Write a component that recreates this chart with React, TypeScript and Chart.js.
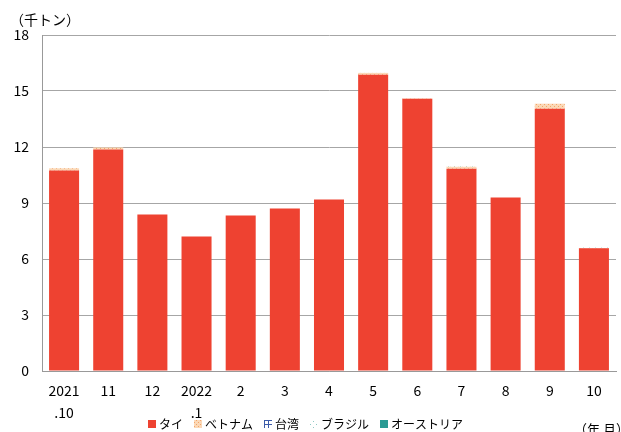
import React, { useEffect, useRef } from "react";
import { Chart, registerables } from "chart.js";

Chart.register(...registerables);

const categories: (string | string[])[] = [["2021", ".10"], "11", "12", ["2022", ".1"], "2", "3", "4", "5", "6", "7", "8", "9", "10"];
const thai = [10.74, 11.86, 8.39, 7.21, 8.33, 8.71, 9.19, 15.87, 14.58, 10.84, 9.29, 14.05, 6.57];
const vietnam = [0.12, 0.12, 0, 0, 0, 0, 0, 0.1, 0.02, 0.1, 0, 0.27, 0.02];
const taiwan = [0, 0, 0, 0, 0, 0, 0, 0, 0, 0, 0, 0, 0];
const brazil = [0.02, 0, 0, 0, 0, 0, 0, 0.04, 0, 0.03, 0, 0, 0.02];
const austria = [0, 0, 0, 0, 0, 0, 0, 0, 0, 0, 0, 0, 0];
const seriesNames = ["タイ", "ベトナム", "台湾", "ブラジル", "オーストリア"];
const yTicks = [0, 3, 6, 9, 12, 15, 18];
const yUnit = "（千トン）";
const xUnit = "（年 月）";

const FONT = "'Noto Sans CJK JP', 'Noto Sans', sans-serif";

function makePattern(kind: string): CanvasPattern | string {
  const c = document.createElement("canvas");
  const ctx = c.getContext("2d");
  if (!ctx) return "#ccc";
  if (kind === "vietnam") {
    c.width = 4; c.height = 4;
    ctx.fillStyle = "#FBD8B6";
    ctx.fillRect(0, 0, 4, 4);
    ctx.fillStyle = "#F3A46A";
    ctx.fillRect(0, 0, 1, 1);
    ctx.fillRect(2, 2, 1, 1);
  } else if (kind === "taiwan") {
    c.width = 4; c.height = 4;
    ctx.fillStyle = "#ffffff";
    ctx.fillRect(0, 0, 4, 4);
    ctx.fillStyle = "#3B5BA9";
    ctx.fillRect(0, 0, 4, 1);
    ctx.fillRect(0, 0, 1, 4);
  } else if (kind === "brazil") {
    c.width = 6; c.height = 6;
    ctx.fillStyle = "#ffffff";
    ctx.fillRect(0, 0, 6, 6);
    ctx.fillStyle = "#8FC9C4";
    ctx.fillRect(1, 1, 1, 1);
    ctx.fillRect(4, 4, 1, 1);
  }
  const p = ctx.createPattern(c, "repeat");
  return p || "#ccc";
}

export default function App() {
  const ref = useRef<HTMLCanvasElement | null>(null);

  useEffect(() => {
    document.body.style.margin = "0";
    if (!ref.current) return;
    const colors = ["#EE4231", makePattern("vietnam"), makePattern("taiwan"), makePattern("brazil"), "#2A9A93"];
    const values = [thai, vietnam, taiwan, brazil, austria];

    const unitPlugin = {
      id: "units",
      afterDraw(chart: any) {
        const ctx = chart.ctx;
        ctx.save();
        ctx.fillStyle = "#000";
        ctx.font = `14px ${FONT}`;
        ctx.textBaseline = "middle";
        ctx.textAlign = "left";
        ctx.fillText(yUnit, 10, 20);
        ctx.font = `13px ${FONT}`;
        ctx.fillText(xUnit, 574, 429);

        // legend
        ctx.font = `12px ${FONT}`;
        const box = 8, gapText = 3, gapItem = 11;
        const widths = seriesNames.map((n) => box + gapText + ctx.measureText(n).width);
        const total = widths.reduce((a, b) => a + b, 0) + gapItem * (seriesNames.length - 1);
        let x = Math.round(306 - total / 2);
        const cy = 424;
        chart.data.datasets.forEach((ds: any, i: number) => {
          ctx.fillStyle = ds.backgroundColor;
          ctx.fillRect(x, cy - box / 2, box, box);
          ctx.fillStyle = "#000";
          ctx.fillText(ds.label, x + box + gapText, cy);
          x += widths[i] + gapItem;
        });
        ctx.restore();
      },
    };

    const chart = new Chart(ref.current, {
      type: "bar",
      data: {
        labels: categories,
        datasets: seriesNames.map((name, i) => ({
          label: name,
          data: values[i],
          backgroundColor: colors[i] as any,
          borderWidth: 0,
          barPercentage: 0.68,
          categoryPercentage: 1,
        })),
      },
      options: {
        animation: false,
        responsive: false,
        maintainAspectRatio: false,
        layout: { padding: { top: 35, right: 5, left: 0, bottom: 0 } },
        plugins: {
          tooltip: { enabled: false },
          legend: { display: false },
        },
        scales: {
          x: {
            stacked: true,
            grid: { display: false, drawTicks: false },
            border: { color: "#999", width: 1 },
            ticks: {
              color: "#000",
              font: { family: FONT, size: 14, lineHeight: 22 / 14 } as any,
              padding: 9,
              maxRotation: 0,
              autoSkip: false,
            },
            afterFit: (s: any) => { s.height = 61; },
          },
          y: {
            stacked: true,
            min: 0,
            max: 18,
            afterBuildTicks: (s: any) => { s.ticks = yTicks.map((v) => ({ value: v })); },
            grid: { color: "#A6A6A6", drawTicks: false },
            border: { color: "#999", width: 1 },
            ticks: {
              color: "#000",
              font: { family: FONT, size: 14 },
              padding: 13,
            },
            afterFit: (s: any) => { s.width = 42; },
          },
        },
      },
      plugins: [unitPlugin],
    });
    return () => chart.destroy();
  }, []);

  return (
    <div style={{ width: 621, height: 432 }}>
      <canvas ref={ref} width={621} height={432} style={{ display: "block" }} />
    </div>
  );
}
